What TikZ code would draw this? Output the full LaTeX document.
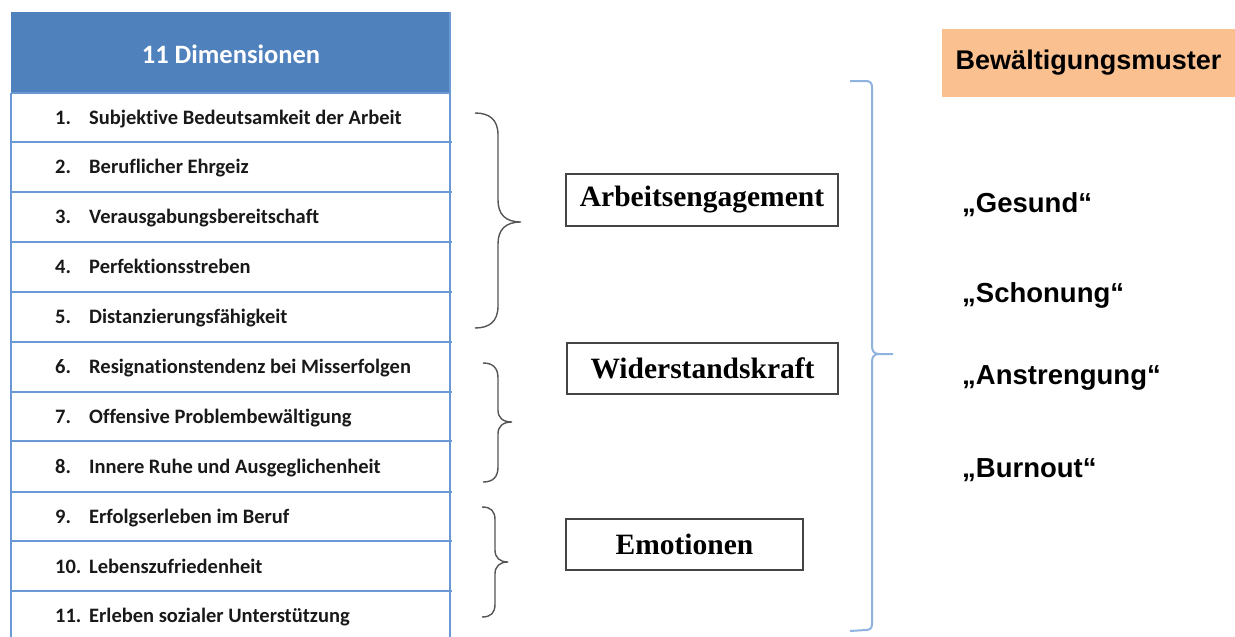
\documentclass[tikz,border=0pt]{standalone}
\usepackage{fontspec}
\newfontfamily\tabfont[Ligatures=NoCommon]{Carlito}
\newfontfamily\serfont{Liberation Serif}
\newfontfamily\arfont{Liberation Sans}
\definecolor{hdrblue}{HTML}{4F81BD}
\definecolor{lineblue}{HTML}{6A98D4}
\definecolor{bracegray}{HTML}{555555}
\definecolor{braceblue}{HTML}{8FB2DE}
\definecolor{orangefill}{HTML}{FAC090}
\definecolor{boxgray}{HTML}{444444}
\begin{document}
\begin{tikzpicture}[x=1pt,y=-1pt,
  rowtxt/.style={anchor=base west,inner sep=0pt,font=\tabfont\bfseries\fontsize{20.5}{23}\selectfont,text=black!90},
  hdrtxt/.style={anchor=base,inner sep=0pt,font=\tabfont\bfseries\fontsize{26.5}{29}\selectfont,text=white},
  catbox/.style={draw=boxgray,line width=1.3pt,rectangle,inner sep=0pt,font=\serfont\bfseries\fontsize{29.5}{32}\selectfont},
  pattxt/.style={anchor=base west,inner sep=0pt,font=\arfont\bfseries\fontsize{27.5}{30}\selectfont},
  thinline/.style={draw=lineblue,line width=1.2pt},
  thickline/.style={draw=lineblue,line width=2.2pt},
  graybrace/.style={draw=bracegray,line width=1.4pt},
  bluebrace/.style={draw=braceblue,line width=2pt}]
\useasboundingbox (0,0) rectangle (1235,637);

% ---- table ----
\fill[hdrblue] (11,12) rectangle (450,93);
\node[hdrtxt] (hdr) at (231,63) {11 Dimensionen};

\draw[thinline] (11,93) -- (450,93);
\draw[thickline] (11,142) -- (452,142);
\draw[thinline] (11,192) -- (452,192);
\draw[thinline] (11,242) -- (452,242);
\draw[thinline] (11,292) -- (452,292);
\draw[thinline] (11,342) -- (452,342);
\draw[thickline] (11,392) -- (452,392);
\draw[thinline] (11,441) -- (452,441);
\draw[thickline] (11,492) -- (452,492);
\draw[thinline] (11,541) -- (452,541);
\draw[thinline] (11,591) -- (452,591);
\draw[thinline] (11,93) -- (11,637);
\draw[thinline] (450,12) -- (450,637);

\node[rowtxt] (n1) at (55,124) {1.};
\node[rowtxt] (t1) at (89,124) {Subjektive Bedeutsamkeit der Arbeit};
\node[rowtxt] (n2) at (55,173.5) {2.};
\node[rowtxt] (t2) at (89,173.5) {Beruflicher Ehrgeiz};
\node[rowtxt] (n3) at (55,223.5) {3.};
\node[rowtxt] (t3) at (89,223.5) {Verausgabungsbereitschaft};
\node[rowtxt] (n4) at (55,273.5) {4.};
\node[rowtxt] (t4) at (89,273.5) {Perfektionsstreben};
\node[rowtxt] (n5) at (55,323.5) {5.};
\node[rowtxt] (t5) at (89,323.5) {Distanzierungsfähigkeit};
\node[rowtxt] (n6) at (55,373) {6.};
\node[rowtxt] (t6) at (89,373) {Resignationstendenz bei Misserfolgen};
\node[rowtxt] (n7) at (55,423) {7.};
\node[rowtxt] (t7) at (89,423) {Offensive Problembewältigung};
\node[rowtxt] (n8) at (55,473) {8.};
\node[rowtxt] (t8) at (89,473) {Innere Ruhe und Ausgeglichenheit};
\node[rowtxt] (n9) at (55,523) {9.};
\node[rowtxt] (t9) at (89,523) {Erfolgserleben im Beruf};
\node[rowtxt] (n10) at (55,573) {10.};
\node[rowtxt] (t10) at (89,573) {Lebenszufriedenheit};
\node[rowtxt] (n11) at (55,622) {11.};
\node[rowtxt] (t11) at (89,622) {Erleben sozialer Unterstützung};

% ---- gray braces ----
\draw[graybrace] (475,113) .. controls (490,113) and (498,120) .. (498,135) -- (498,200)
  .. controls (498,214) and (505,222) .. (521,222)
  .. controls (505,222) and (498,230) .. (498,244) -- (498,306)
  .. controls (498,321) and (490,328) .. (475,328);
\draw[graybrace] (483,363) .. controls (493,363) and (498,368) .. (498,378) -- (498,410)
  .. controls (498,418) and (503,422) .. (512,422)
  .. controls (503,422) and (498,426) .. (498,434) -- (498,467)
  .. controls (498,477) and (493,482) .. (483,482);
\draw[graybrace] (482,507) .. controls (491,507) and (495,511) .. (495,520) -- (495,550)
  .. controls (495,558) and (500,562) .. (508,562)
  .. controls (500,562) and (495,566) .. (495,574) -- (495,604)
  .. controls (495,613) and (491,617) .. (482,617);

% ---- category boxes ----
\node[catbox,minimum width=272pt,minimum height=52pt] (arb) at (702,200) {Arbeitsengagement};
\node[catbox,minimum width=271pt,minimum height=51pt] (wid) at (702.5,368.5) {Widerstandskraft};
\node[catbox,minimum width=237pt,minimum height=51pt] (emo) at (684.5,544.5) {Emotionen};

% ---- big blue brace ----
\draw[bluebrace] (850,81) -- (866,81) .. controls (870,81) and (872,83) .. (872,87) -- (872,346)
  .. controls (872,351) and (874,354) .. (879,354) -- (893,354);
\draw[bluebrace] (879,354) .. controls (874,354) and (872,357) .. (872,362) -- (872,624)
  .. controls (872,628) and (870,630) .. (866,630) -- (850,631);

% ---- right side ----
\node[fill=orangefill,minimum width=293pt,minimum height=68pt,inner sep=0pt,
      font=\arfont\bfseries\fontsize{27}{30}\selectfont] (bew) at (1088.5,63) {Bewältigungsmuster};
\node[pattxt] (ges) at (962,212) {„Gesund“};
\node[pattxt] (sch) at (962,302) {„Schonung“};
\node[pattxt] (ans) at (962,384) {„Anstrengung“};
\node[pattxt] (bur) at (962,477) {„Burnout“};
\end{tikzpicture}
\end{document}
